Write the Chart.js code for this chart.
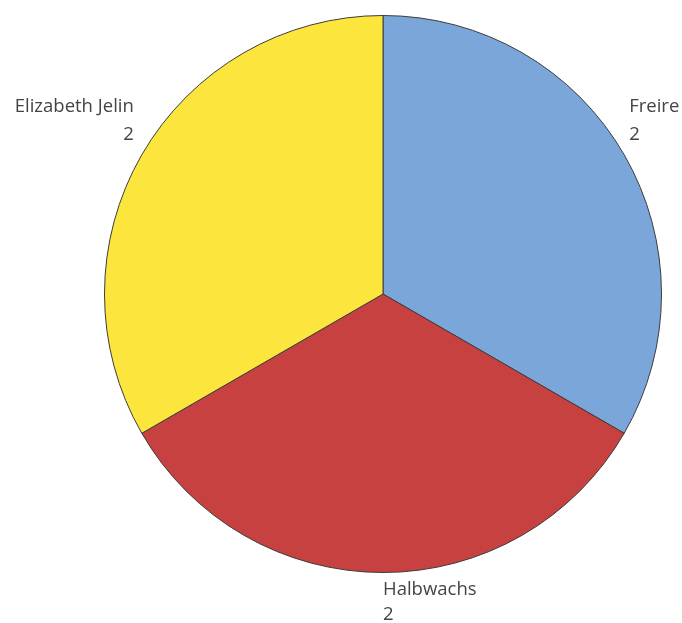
<!DOCTYPE html>
<html>
<head>
<meta charset="utf-8">
<script src="https://cdn.jsdelivr.net/npm/chart.js@4.4.1/dist/chart.umd.min.js"></script>
<style>
  html,body{margin:0;padding:0;background:#fff;}
  #wrap{width:682px;height:623px;}
</style>
</head>
<body>
<div id="wrap"><canvas id="pie" width="682" height="623"></canvas></div>
<script>
const LABELS=['Freire','Halbwachs','Elizabeth Jelin'];
const VALUES=[2,2,2];
const COLORS=['#7ba6d9','#c84141','#fce63e'];

// slice name + value written beside each arc
const sliceLabels={
  id:'sliceLabels',
  afterDatasetsDraw(chart){
    const {ctx}=chart;
    const meta=chart.getDatasetMeta(0);
    ctx.save();
    ctx.font='18.5px "Open Sans", "DejaVu Sans", sans-serif';
    ctx.fillStyle='#444';
    ctx.textBaseline='middle';
    meta.data.forEach((arc,i)=>{
      const mid=(arc.startAngle+arc.endAngle)/2;
      const r=arc.outerRadius;
      const px=arc.x+Math.cos(mid)*r;
      const py=arc.y+Math.sin(mid)*r;
      const lines=[LABELS[i],String(VALUES[i])];
      if(Math.abs(Math.cos(mid))<0.2){
        // bottom slice: text below the edge
        ctx.textAlign='left';
        ctx.fillText(lines[0],px,py+17);
        ctx.fillText(lines[1],px,py+42);
      }else if(Math.cos(mid)>0){
        ctx.textAlign='left';
        ctx.fillText(lines[0],px+5,py-48);
        ctx.fillText(lines[1],px+5,py-20);
      }else{
        ctx.textAlign='right';
        ctx.fillText(lines[0],px-8,py-48);
        ctx.fillText(lines[1],px-8,py-20);
      }
    });
    ctx.restore();
  }
};

new Chart(document.getElementById('pie').getContext('2d'),{
  type:'pie',
  data:{
    labels:LABELS,
    datasets:[{
      data:VALUES,
      backgroundColor:COLORS,
      borderColor:'#3c3c3c',
      borderWidth:1
    }]
  },
  options:{
    responsive:false,
    animation:false,
    layout:{padding:{top:15,bottom:50,left:104,right:20}},
    plugins:{legend:{display:false},tooltip:{enabled:false}}
  },
  plugins:[sliceLabels]
});
</script>
</body>
</html>
